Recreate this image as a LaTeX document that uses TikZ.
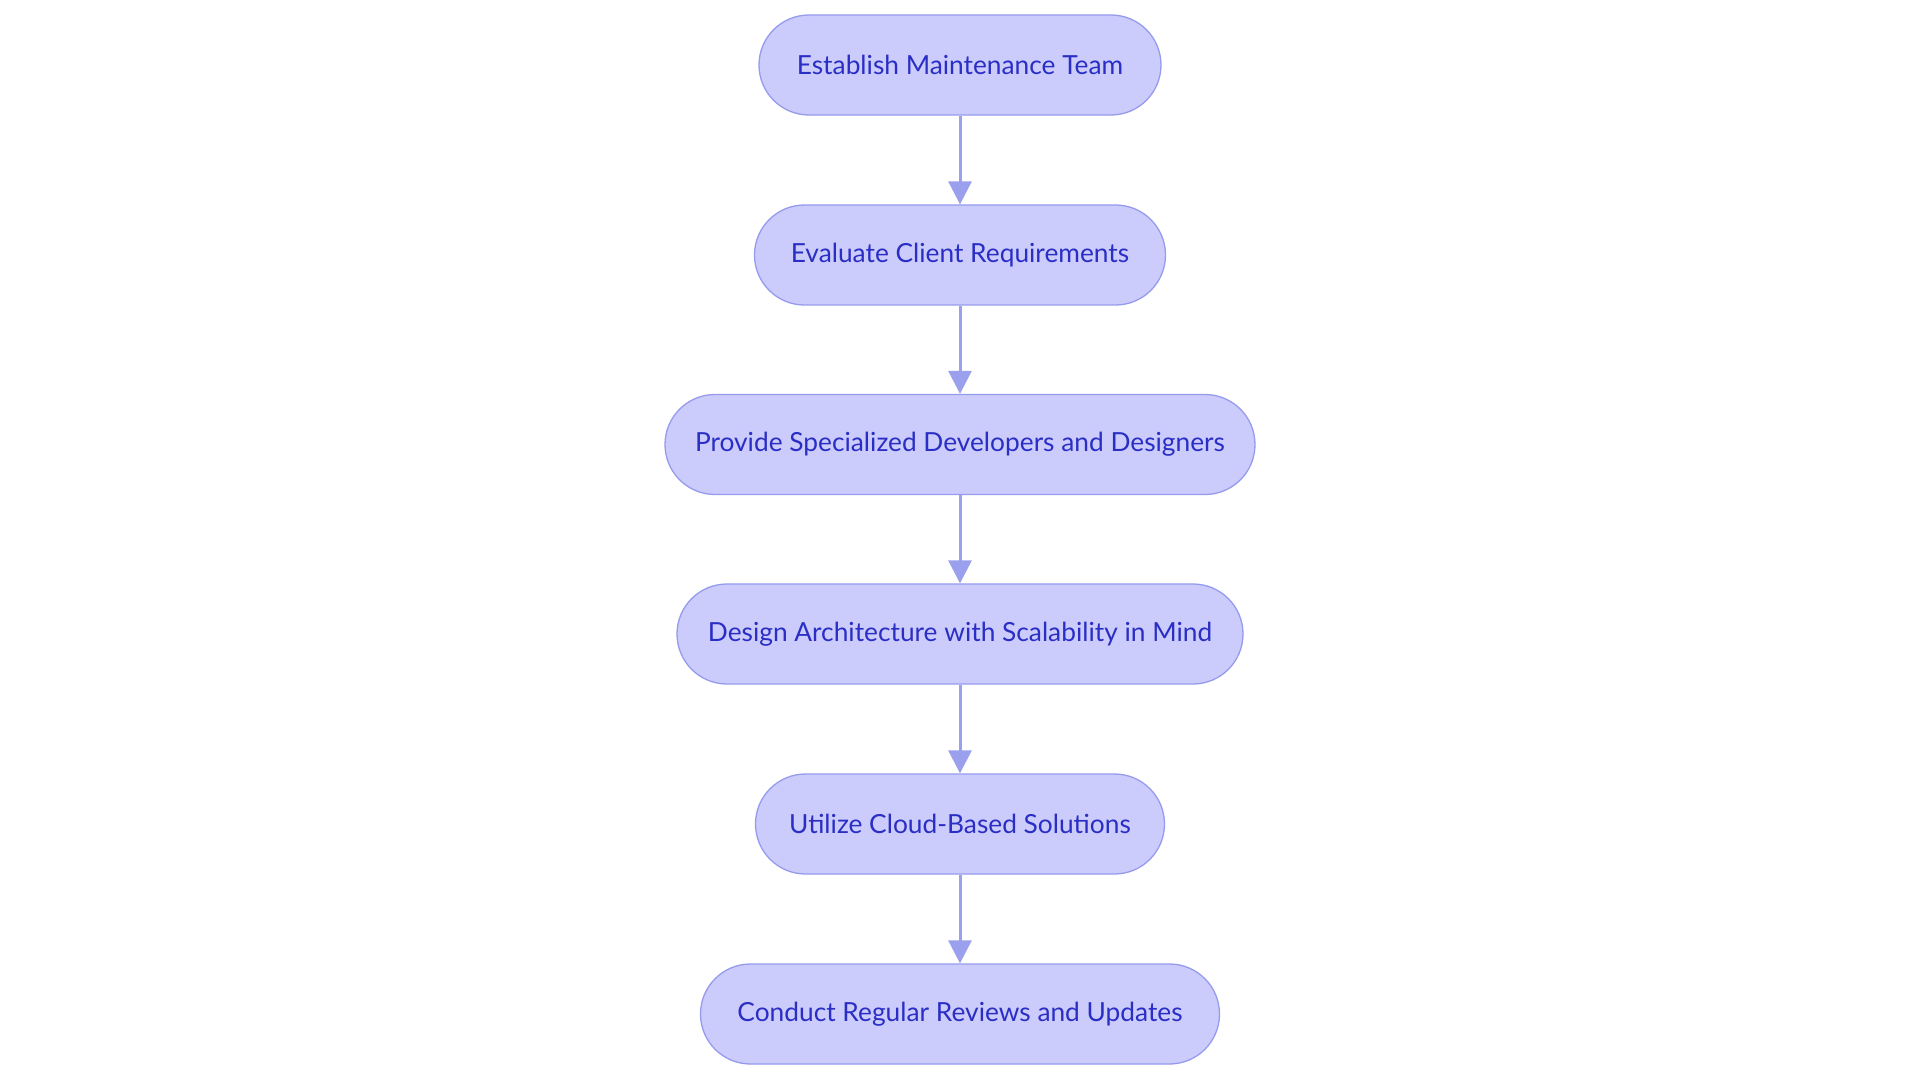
\documentclass[tikz,border=0pt]{standalone}
\usepackage{fontspec}
\setmainfont{Lato}
\usetikzlibrary{arrows.meta}
\definecolor{boxfill}{RGB}{203,204,251}
\definecolor{boxline}{RGB}{150,155,238}
\definecolor{boxtext}{RGB}{42,46,196}
\definecolor{arrowcol}{RGB}{155,160,238}
\tikzset{
  stepbox/.style={draw=boxline, fill=boxfill, line width=1.3pt, rounded corners=50pt,
    minimum height=100pt, inner sep=0pt, text=boxtext,
    font=\fontsize{26.3pt}{30pt}\selectfont},
  flow/.style={draw=arrowcol, line width=3pt, -{Triangle[length=23pt,width=23pt]}}
}
\begin{document}
\begin{tikzpicture}[x=1pt,y=-1pt]
\useasboundingbox[fill=white] (0,0) rectangle (1920,1083);
\node[stepbox, minimum width=402pt] (n1) at (960,65) {Establish Maintenance Team};
\node[stepbox, minimum width=411pt] (n2) at (960,255) {Evaluate Client Requirements};
\node[stepbox, minimum width=590pt] (n3) at (960,444.5) {Provide Specialized Developers and Designers};
\node[stepbox, minimum width=566pt] (n4) at (960,634) {Design Architecture with Scalability in Mind};
\node[stepbox, minimum width=409pt] (n5) at (960,824) {Utilize Cloud-Based Solutions};
\node[stepbox, minimum width=519pt] (n6) at (960,1014) {Conduct Regular Reviews and Updates};
\draw[flow] (n1) -- (n2);
\draw[flow] (n2) -- (n3);
\draw[flow] (n3) -- (n4);
\draw[flow] (n4) -- (n5);
\draw[flow] (n5) -- (n6);
\end{tikzpicture}
\end{document}
